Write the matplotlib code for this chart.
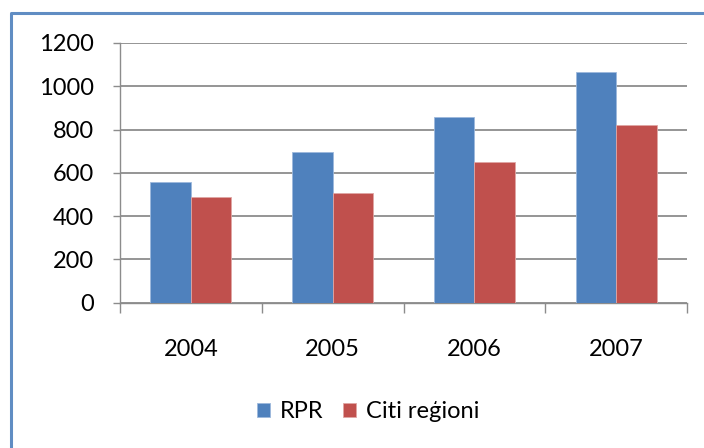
import matplotlib
matplotlib.use("Agg")
import matplotlib.pyplot as plt
from matplotlib.lines import Line2D
import numpy as np

years = ["2004", "2005", "2006", "2007"]
rpr = [556, 696, 857, 1066]
citi = [490, 507, 650, 821]
series_names = ["RPR", "Citi reģioni"]
yticks = [0, 200, 400, 600, 800, 1000, 1200]

blue = "#4F81BD"
red = "#C0504D"
grid_c = "#8C8C8C"

plt.rcParams['font.family'] = ['Lato', 'DejaVu Sans']
fs = 17

fig = plt.figure(figsize=(7.04, 4.48), dpi=100)
W, H = 704, 448
ax = fig.add_axes([120 / W, 1 - 302.7 / H, (687 - 120) / W, (302.7 - 43) / H])

x = np.arange(1, len(years) + 1)
bw = 0.2857
ax.bar(x - bw / 2, rpr, width=bw, color=blue, edgecolor="#9DB9DC", linewidth=0.6, label=series_names[0], zorder=3)
ax.bar(x + bw / 2, citi, width=bw, color=red, edgecolor="#E0A6A4", linewidth=0.6, label=series_names[1], zorder=3)

ax.set_xlim(0.5, len(years) + 0.5)
ax.set_ylim(0, 1200)
ax.set_yticks(yticks)
ax.set_yticklabels([str(v) for v in yticks])
ax.yaxis.grid(True, color=grid_c, linewidth=1.3)
ax.set_axisbelow(True)

ax.set_xticks(x)
ax.set_xticklabels(years)
ax.set_xticks(np.arange(0.5, len(years) + 1, 1.0), minor=True)
ax.tick_params(axis='x', which='major', length=0, pad=26, labelsize=fs, colors='#000000')
ax.tick_params(axis='x', which='minor', length=7, width=1.0, color=grid_c)
ax.tick_params(axis='y', length=5, width=1.0, color=grid_c, pad=14, labelsize=fs)

for s in ['top', 'right']:
    ax.spines[s].set_visible(False)
for s in ['left', 'bottom']:
    ax.spines[s].set_color(grid_c)
    ax.spines[s].set_linewidth(1.0)

leg = fig.legend(loc='center', bbox_to_anchor=(368 / W, 1 - 412 / H), ncol=2, frameon=False,
                 fontsize=fs, handlelength=0.55, handleheight=0.55, handletextpad=0.4,
                 columnspacing=0.85)

# blue frame
fig.add_artist(Line2D([11 / W, 11 / W, 1.02], [-0.02, 1 - 13 / H, 1 - 13 / H],
                      transform=fig.transFigure, color=blue, linewidth=2.2, alpha=0.9))

fig.savefig("out.png", dpi=100)
